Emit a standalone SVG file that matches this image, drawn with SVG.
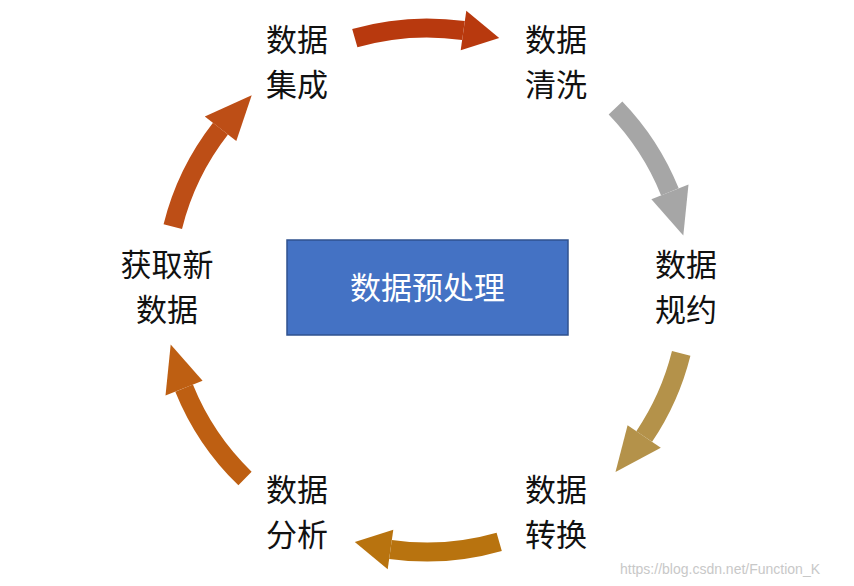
<svg xmlns="http://www.w3.org/2000/svg" width="854" height="586" viewBox="0 0 854 586">
<style>
.lb{font-family:"Noto Sans CJK SC","Liberation Sans",sans-serif;font-size:31px;fill:#111;text-anchor:middle}
.sh{fill:none;stroke-width:19}
</style>
<rect width="854" height="586" fill="#fff"/>
<g id="connectors">
<path class="sh" stroke="#B8390E" d="M354.8,38.1 A262 262 0 0 1 463.5,30.5"/>
<polygon fill="#B8390E" points="460.7,50.3 466.3,10.7 499.2,38.1"/>
<path class="sh" stroke="#A6A6A6" d="M615.5,108 A262 262 0 0 1 669.9,191.9"/>
<polygon fill="#A6A6A6" points="651.4,199.3 688.5,184.4 683.3,235.5"/>
<path class="sh" stroke="#B4924A" d="M681.2,353.4 A262 262 0 0 1 644.2,436.5"/>
<polygon fill="#B4924A" points="627.6,425.3 660.8,447.7 615.5,472"/>
<path class="sh" stroke="#B8730F" d="M499.2,541.9 A262 262 0 0 1 390.5,549.5"/>
<polygon fill="#B8730F" points="393.3,529.7 387.7,569.3 354.8,541.9"/>
<path class="sh" stroke="#BE5F12" d="M245,478.5 A262 262 0 0 1 184.1,388.1"/>
<polygon fill="#BE5F12" points="202.6,380.7 165.5,395.6 170.7,344.5"/>
<path class="sh" stroke="#BD4E16" d="M172.8,226.6 A262 262 0 0 1 220.5,128.7"/>
<polygon fill="#BD4E16" points="236.3,141 204.8,116.4 251.7,95.3"/>
</g>
<g id="center"><rect x="287" y="240" width="281" height="95" fill="#4472C4" stroke="#2F528F" stroke-width="1.5"/>
<text x="427.5" y="299" class="lb" style="fill:#fff">数据预处理</text></g>
<g id="n1"><text class="lb" x="297" y="51">数据</text><text class="lb" x="297" y="96">集成</text></g>
<g id="n2"><text class="lb" x="556" y="51">数据</text><text class="lb" x="556" y="96">清洗</text></g>
<g id="n3"><text class="lb" x="686" y="276">数据</text><text class="lb" x="686" y="321">规约</text></g>
<g id="n4"><text class="lb" x="556" y="501">数据</text><text class="lb" x="556" y="546">转换</text></g>
<g id="n5"><text class="lb" x="297" y="501">数据</text><text class="lb" x="297" y="546">分析</text></g>
<g id="n6"><text class="lb" x="167" y="276">获取新</text><text class="lb" x="167" y="321">数据</text></g>
<text x="620" y="574" font-family="Liberation Sans,sans-serif" font-size="14" fill="#c8c8c8">https://blog.csdn.net/Function_K</text>
</svg>
